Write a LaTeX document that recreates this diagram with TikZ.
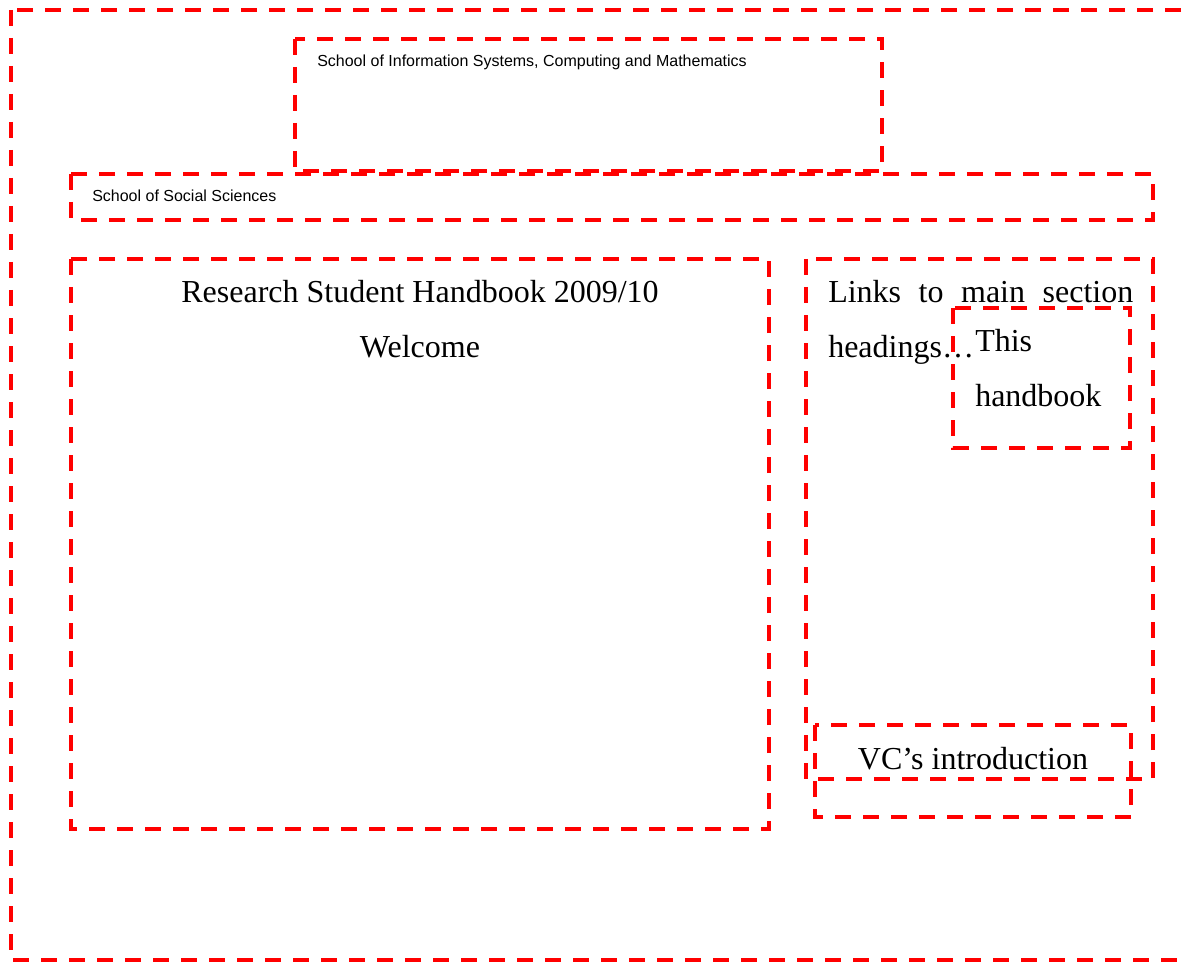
\documentclass[tikz,border=0pt]{standalone}
\usepackage{fontspec}
\setmainfont{Liberation Serif}
\newfontfamily\arialfont{Liberation Sans}
\begin{document}
\begin{tikzpicture}[x=0.75pt,y=-0.75pt,
  frame/.style={draw=red,line width=3pt,dash pattern=on 12pt off 9pt},
  small/.style={font=\arialfont\fontsize{12}{14}\selectfont,inner sep=0pt,anchor=base west},
  big/.style={font=\fontsize{24}{41}\selectfont,inner sep=0pt}]
% page area
\clip (0,0) rectangle (1187,962);
% layout frames
\draw[frame] (11,10) rectangle (1200,960);
\draw[frame] (295,39) rectangle (882,171);
\draw[frame] (71,174) rectangle (1153,220);
\draw[frame] (71,259) rectangle (769,829);
\draw[frame] (806,259) rectangle (1153,779);
\draw[frame] (953,308) rectangle (1130,448);
\draw[frame] (815,725) rectangle (1131,817);
% labels
\node[small] (iscm) at (317,67) {School of Information Systems, Computing and Mathematics};
\node[small] (socsci) at (92,202) {School of Social Sciences};
\node[big,anchor=base] (title) at (420,302) {Research Student Handbook 2009/10};
\node[big,anchor=base] (welcome) at (420,357) {Welcome};
\node[big,anchor=base west] (links) at (828,302) {\makebox[228.75pt][s]{Links to main section}};
\node[big,anchor=base west] (headings) at (828,357) {headings…};
\node[big,anchor=base west] (this) at (975,351) {This};
\node[big,anchor=base west] (handbook) at (975,406) {handbook};
\node[big,anchor=base] (vc) at (973,769) {VC’s introduction};
\end{tikzpicture}
\end{document}
